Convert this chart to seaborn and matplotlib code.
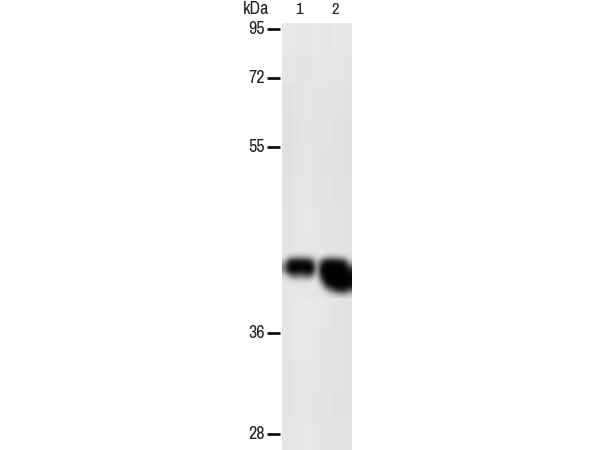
import logging
import matplotlib
matplotlib.use("Agg")
import matplotlib.pyplot as plt
import numpy as np
import seaborn as sns

logging.getLogger("matplotlib.font_manager").setLevel(logging.ERROR)

W, H = 600, 450
marker_labels = ["95", "72", "55", "36", "28"]
marker_rows = [29, 78, 147, 333, 434]
lane_labels = ["1", "2"]
lane_cols = [299, 335]

lane_gray = [
    [232, 232, 230, 232, 230, 232, 230],
    [230, 229, 229, 231, 230, 230, 228],
    [226, 228, 230, 229, 228, 228, 226],
    [224, 226, 229, 228, 228, 226, 224],
    [224, 228, 230, 228, 226, 226, 224],
    [226, 230, 230, 228, 228, 226, 226],
    [228, 230, 232, 230, 228, 228, 226],
    [228, 230, 230, 230, 228, 228, 226],
    [230, 232, 232, 232, 230, 230, 226],
    [230, 232, 234, 232, 230, 228, 226],
    [230, 232, 232, 230, 228, 228, 226],
    [228, 230, 230, 230, 228, 228, 226],
    [228, 230, 230, 228, 228, 226, 226],
    [230, 230, 232, 230, 228, 228, 228],
]

band_gray = [
    [230, 230, 230, 230, 230, 230, 230, 230, 230, 230, 228, 228, 228, 228, 228],
    [230, 215, 195, 185, 190, 200, 215, 228, 226, 205, 190, 195, 205, 215, 226],
    [200, 40, 15, 10, 15, 25, 70, 210, 90, 15, 12, 18, 28, 60, 205],
    [130, 5, 0, 0, 3, 0, 5, 180, 15, 0, 0, 0, 0, 2, 90],
    [150, 15, 0, 8, 20, 0, 5, 195, 5, 0, 0, 0, 0, 0, 25],
    [222, 170, 110, 120, 120, 100, 130, 220, 30, 0, 0, 0, 0, 0, 8],
    [230, 226, 218, 218, 218, 218, 224, 230, 110, 0, 0, 0, 0, 0, 5],
    [230, 230, 230, 230, 230, 230, 230, 230, 200, 60, 8, 0, 0, 0, 10],
    [230, 230, 230, 230, 230, 230, 230, 230, 226, 190, 130, 70, 40, 45, 110],
    [230, 230, 230, 230, 230, 230, 230, 230, 230, 228, 224, 215, 205, 205, 215],
]

sns.set_theme(style="white")
plt.rcParams["font.family"] = ["Archivo Narrow", "PT Sans Narrow", "Pragati Narrow",
                               "Liberation Sans", "DejaVu Sans"]

fig = plt.figure(figsize=(W / 100, H / 100), dpi=100, facecolor="white")


def box(x0, y0, x1, y1):
    return [x0 / W, 1 - y1 / H, (x1 - x0) / W, (y1 - y0) / H]


ax = fig.add_axes(box(282, 23, 352, 450))
sns.heatmap(np.array(lane_gray), ax=ax, cmap="gray", vmin=0, vmax=255, cbar=False,
            xticklabels=False, yticklabels=False, rasterized=True)

ov = fig.add_axes([0, 0, 1, 1], facecolor="none")
ov.set_xlim(0, W)
ov.set_ylim(H, 0)
ov.axis("off")
for lab, r in zip(marker_labels, marker_rows):
    ov.plot([267, 280], [r, r], color="#111111", lw=2.0, solid_capstyle="butt")
    ov.text(265, r, lab, ha="right", va="center", fontsize=13, color="#222222")
for lab, c in zip(lane_labels, lane_cols):
    ov.text(c, 10, lab, ha="center", va="center", fontsize=12, color="#222222")
ov.text(256, 9, "kDa", ha="center", va="center", fontsize=13, color="#222222")

bx = fig.add_axes(box(282, 250, 352, 298))
bx.imshow(np.array(band_gray), cmap="gray", vmin=0, vmax=255, aspect="auto",
          interpolation="bicubic")
bx.axis("off")

fig.savefig("out.png", dpi=100, facecolor="white")
